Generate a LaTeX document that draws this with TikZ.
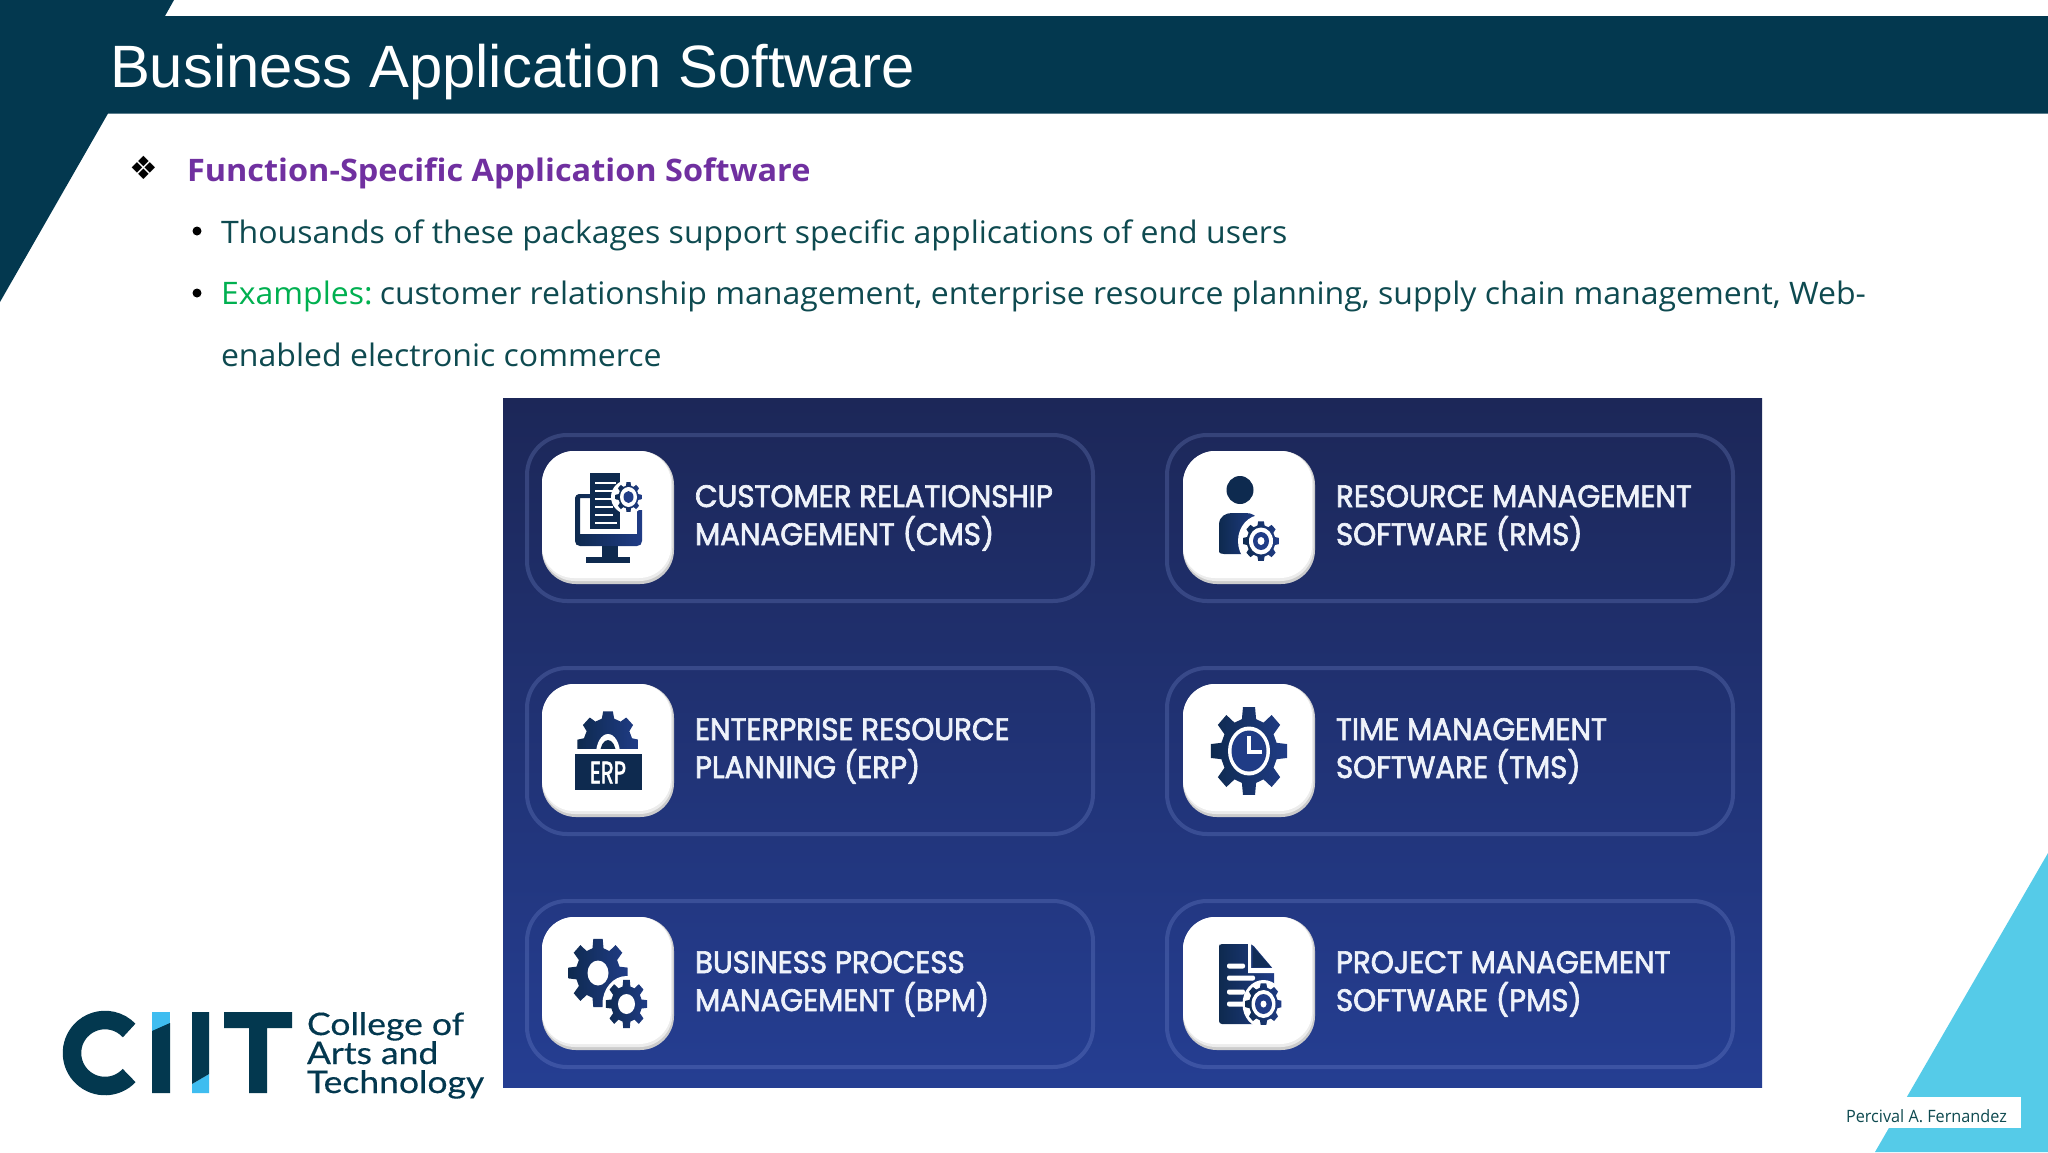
\documentclass[tikz,border=0pt]{standalone}
\usepackage{fontspec}
\setmainfont{Liberation Sans}
\newfontfamily\bodyf[FakeStretch=1.033]{Open Sans}
\newfontfamily\headf[FakeStretch=1.047]{Open Sans}
\newfontfamily\authf[FakeStretch=0.955]{Open Sans}
\newfontfamily\cardf[FakeStretch=0.945,FakeBold=2.2]{Poppins}
\newfontfamily\logof[FakeStretch=1.145,FakeBold=0.4]{Lato}
\newfontfamily\symf{DejaVu Sans}
\definecolor{band}{HTML}{03384F}
\definecolor{bodyc}{HTML}{0E4A50}
\definecolor{purp}{HTML}{7030A0}
\definecolor{grn}{HTML}{00B050}
\definecolor{sky}{HTML}{55CBE8}
\definecolor{logoblue}{HTML}{3FBDF0}
\definecolor{navya}{HTML}{0E2A4F}
\definecolor{navyb}{HTML}{203C86}
\definecolor{cardline}{HTML}{8FA4E8}
\definecolor{cardtext}{HTML}{EEF2FA}
\definecolor{paneltop}{HTML}{1C2758}
\definecolor{panelmid}{HTML}{1F2F6E}
\definecolor{panelbot}{HTML}{253E92}
\tikzset{
  txt/.style={anchor=base west,inner sep=0pt,outer sep=0pt},
  bodytxt/.style={txt,text=bodyc,font=\bodyf\fontsize{31}{36}\selectfont},
  cardtxt/.style={txt,text=cardtext,font=\cardf\fontsize{31}{36}\selectfont},
  logotxt/.style={txt,text=band,font=\logof\fontsize{31}{36}\selectfont},
  cardbox/.style={draw=cardline,draw opacity=0.22,line width=4pt,rounded corners=40pt},
  iconfill/.style={left color=navya,right color=navyb},
}
% #1 x #2 y #3 rx #4 ry #5 teeth #6 inner radius ratio
\newcommand{\gearfig}[6]{%
  \begin{scope}[shift={(#1,#2)},x=#3pt,y=#4pt]
    \pgfmathsetmacro\gstep{360/#5}
    \path[iconfill] ({-0.32*\gstep}:#6)
      \foreach \i in {1,...,#5}{
        -- ({(\i-1)*\gstep-0.2*\gstep}:1)
        -- ({(\i-1)*\gstep+0.2*\gstep}:1)
        -- ({(\i-1)*\gstep+0.32*\gstep}:#6)
        -- ({\i*\gstep-0.32*\gstep}:#6)
      } -- cycle;
  \end{scope}}
\newcommand{\card}[6]{% name, x, y, tile x, line1, line2
  \draw[cardbox] (#2,#3) rectangle ++(566,166);
  \fill[gray!40,rounded corners=34pt] (#4,#3+16) rectangle ++(132,133);
  \fill[gray!15,rounded corners=33pt] (#4,#3+16) rectangle ++(130.5,130);
  \fill[white,rounded corners=32pt] (#4,#3+16) rectangle ++(129,127);
  \node[cardtxt] (#1a) at (#4+153,#3+72) {#5};
  \node[cardtxt] (#1b) at (#4+153,#3+110) {#6};
}
\begin{document}
\begin{tikzpicture}[x=1pt,y=-1pt]
\useasboundingbox (0,0) rectangle (2048,1152);
\fill[white] (0,0) rectangle (2048,1152);
% header shape
\fill[band] (0,0) -- (174,0) -- (165,16) -- (2048,16) -- (2048,113.5) -- (108,113.5) -- (0,302) -- cycle;
% lower right triangle
\fill[sky] (2048,853) -- (1875,1152) -- (2048,1152) -- cycle;
\fill[white] (1880,1097) rectangle (2021,1128);
\node[txt,text=bodyc,font=\authf\fontsize{17}{20}\selectfont] (author) at (1846,1122) {Percival A. Fernandez};
% title
\node[txt,text=white,font=\fontsize{59.8}{66}\selectfont] (title) at (110,87) {Business Application Software};
% bullets
\node[inner sep=0pt,font=\symf\fontsize{32}{34}\selectfont] (d1) at (144,168) {❖};
\node[txt,text=purp,font=\headf\bfseries\fontsize{31}{36}\selectfont] (h1) at (187,181) {Function-Specific Application Software};
\fill (197,231) circle (4.5) (197,293) circle (4.5);
\node[bodytxt] (l1) at (221,243) {Thousands of these packages support specific applications of end users};
\node[bodytxt] (l2) at (221,304) {\textcolor{grn}{Examples:}\hspace{-4pt} customer relationship management, enterprise resource planning, supply chain management, Web-};
\node[bodytxt] (l3) at (221,366) {enabled electronic commerce};
% picture panel
\shade[top color=paneltop,middle color=panelmid,bottom color=panelbot] (503,398) rectangle (1762,1087);
\card{c1}{527}{435}{542}{CUSTOMER RELATIONSHIP}{MANAGEMENT (CMS)}
\card{c2}{1167}{435}{1183}{RESOURCE MANAGEMENT}{SOFTWARE (RMS)}
\card{c3}{527}{668}{542}{ENTERPRISE RESOURCE}{PLANNING (ERP)}
\card{c4}{1167}{668}{1183}{TIME MANAGEMENT}{SOFTWARE (TMS)}
\card{c5}{527}{901}{542}{BUSINESS PROCESS}{MANAGEMENT (BPM)}
\card{c6}{1167}{901}{1183}{PROJECT MANAGEMENT}{SOFTWARE (PMS)}
% icon 1 monitor + doc
\path[iconfill] (575,498) -- (575,541) .. controls (575,544) and (577,546) .. (580,546) -- (637,546) .. controls (640,546) and (642,544) .. (642,541) -- (642,510) -- (637,510) -- (637,534) -- (580,534) -- (580,498) -- (590,498) -- (590,494) -- (579,494) .. controls (577,494) and (575,496) .. (575,498) -- cycle;
\fill[navya] (602,546) rectangle (618,558);
\fill[navya] (586,557) rectangle (630,563);
\fill[navya] (590,473) rectangle (620,529);
\foreach \yy/\xe in {482/616,490/616,498/614,506/613,514/613,522/617}{\fill[white] (595,\yy) rectangle (\xe,\yy+2.2);}
\fill[white] (628,497) circle (17);
\gearfig{628.5}{497}{13}{15}{8}{0.78}
\fill[white] (628.5,497) ellipse (8.5 and 10);
\fill[navyb] (628.5,497) ellipse (5 and 6);
% icon 2 person + gear
\fill[navya] (1240,490) ellipse (13.5 and 14);
\path[iconfill] (1219,552) -- (1219,525) .. controls (1219,516) and (1226,513) .. (1232,513) -- (1246,513) .. controls (1252,513) and (1258,516) .. (1258,522) -- (1258,554) -- (1224,554) .. controls (1221,554) and (1219,553) .. (1219,552) -- cycle;
\fill[white] (1261,541) ellipse (23 and 26);
\gearfig{1261}{541}{18}{20}{8}{0.8}
\fill[white] (1261,541) ellipse (12 and 13.5);
\fill[navyb] (1261,541) ellipse (8 and 9);
\fill[white] (1261,541) ellipse (3.5 and 4);
% icon 3 ERP
\begin{scope}
  \clip (560,700) rectangle (660,749);
  \gearfig{608}{745}{31}{34}{8}{0.8}
\end{scope}
\fill[white] (608,754) ellipse (12 and 20);
\fill[navya] (608,754) ellipse (8 and 14);
\fill[white] (575,749) rectangle (642,754);
\fill[navya] (575,754) rectangle (642,790);
\node[inner sep=0pt,text=white,font=\cardf\fontsize{31}{31}\selectfont] (erp) at (608,772.5) {\scalebox{0.72}[1]{ERP}};
% icon 4 clock gear
\gearfig{1249}{751}{38.5}{44.5}{8}{0.74}
\fill[white] (1249,751) ellipse (21 and 24.5);
\fill[navyb] (1249,751) ellipse (17.5 and 20.5);
\fill[white] (1247,736) rectangle (1251,754);
\fill[white] (1247,750) rectangle (1262,754);
% icon 5 gears
\gearfig{598}{973}{30}{34.5}{8}{0.74}
\fill[white] (598,973) ellipse (10.5 and 12.5);
\fill[white] (626.5,1004) ellipse (24 and 28);
\gearfig{626.5}{1004}{21}{24.5}{8}{0.74}
\fill[white] (626.5,1004) ellipse (8.5 and 10);
% icon 6 document
\path[iconfill,rounded corners=3pt] (1219,947) -- (1219,1024) -- (1274,1024) -- (1274,970) -- (1252,944) -- (1219,944) -- cycle;
\fill[white] (1251,944) -- (1251,968) -- (1276,968) -- (1276,973) -- (1248,973) -- (1248,944) -- cycle;
\fill[white] (1254,942) -- (1276,942) -- (1276,968) -- cycle;
\fill[navya!85!navyb] (1253,947) -- (1271,967) -- (1253,967) -- cycle;
\foreach \yy/\xe in {966/1245,978/1255,992/1245,1004/1245}{\fill[white,rounded corners=2pt] (1227,\yy-2.5) rectangle (\xe,\yy+2.5);}
\fill[white] (1263.5,1004) ellipse (21 and 24);
\gearfig{1263.5}{1004}{18}{21}{8}{0.8}
\fill[white] (1263.5,1004) ellipse (12 and 14);
\fill[navyb] (1263.5,1004) ellipse (8.5 and 10);
\fill[white] (1263.5,1004) ellipse (3 and 3.5);
% logo
\begin{scope}[shift={(105,1053)}]
  \draw[band,line width=18.5pt] (43:33) arc (43:317:33);
\end{scope}
\fill[logoblue] (152,1012) rectangle (170,1031);
\fill[band] (152,1031) -- (170,1023) -- (170,1093) -- (152,1093) -- cycle;
\fill[logoblue] (192,1084) -- (209,1074) -- (209,1093) -- (192,1093) -- cycle;
\fill[band] (192,1012) -- (209,1012) -- (209,1074) -- (192,1084) -- cycle;
\fill[band] (224,1012) -- (292,1012) -- (292,1028) -- (267,1028) -- (267,1093) -- (249,1093) -- (249,1028) -- (224,1028) -- cycle;
\node[logotxt] (lg1) at (307,1035) {College of};
\node[logotxt] (lg2) at (307,1064) {Arts and};
\node[logotxt] (lg3) at (307,1093) {Technology};
\end{tikzpicture}
\end{document}
